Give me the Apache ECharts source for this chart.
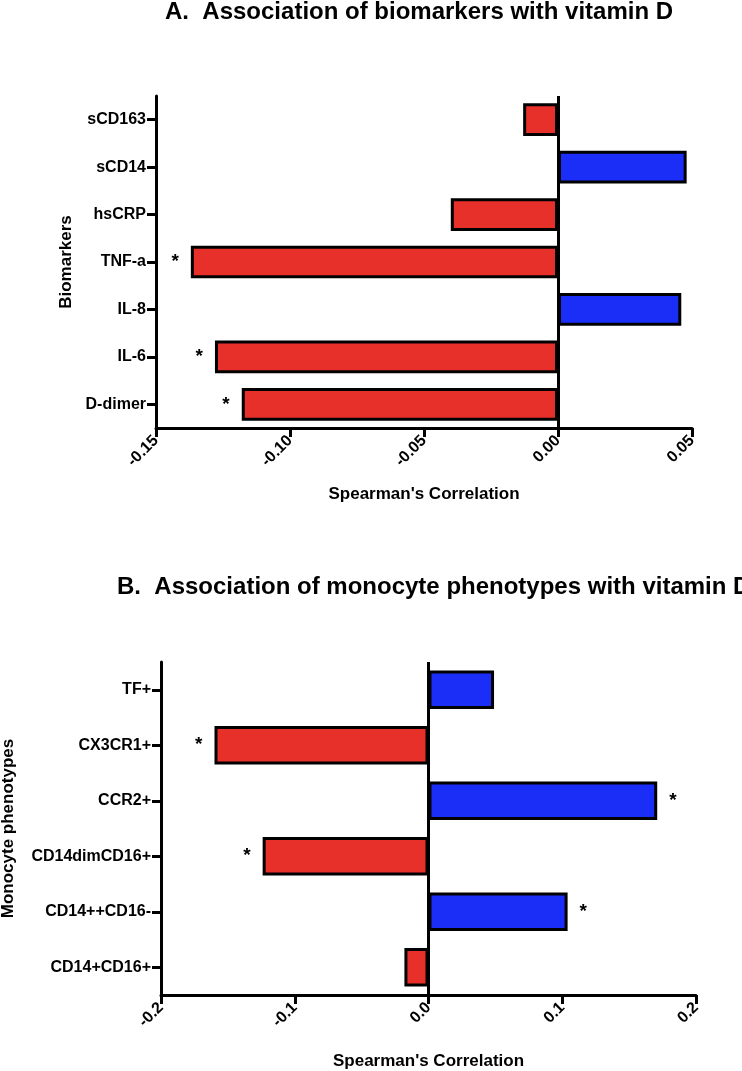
<!DOCTYPE html>
<html>
<head>
<meta charset="utf-8">
<script src="https://cdn.jsdelivr.net/npm/echarts@6/dist/echarts.min.js"></script>
<style>
html,body{margin:0;padding:0;background:#fff;}
#c{width:742px;height:1071px;}
</style>
</head>
<body>
<div id="c"></div>
<script>
// ---- Data ----
const titleA = 'A.  Association of biomarkers with vitamin D';
const catsA = ['sCD163', 'sCD14', 'hsCRP', 'TNF-a', 'IL-8', 'IL-6', 'D-dimer'];
const valsA = [-0.013, 0.048, -0.040, -0.137, 0.046, -0.128, -0.118];
const sigA = [false, false, false, true, false, true, true];
const ticksA = { min: -0.15, max: 0.05, interval: 0.05, digits: 2 };

const titleB = 'B.  Association of monocyte phenotypes with vitamin D';
const catsB = ['TF+', 'CX3CR1+', 'CCR2+', 'CD14dimCD16+', 'CD14++CD16-', 'CD14+CD16+'];
const valsB = [0.049, -0.160, 0.171, -0.124, 0.104, -0.018];
const sigB = [false, true, true, true, true, false];
const ticksB = { min: -0.2, max: 0.2, interval: 0.1, digits: 1 };

const xName = "Spearman's Correlation";
const yNameA = 'Biomarkers';
const yNameB = 'Monocyte phenotypes';

// ---- Styles ----
const RED = '#e8302a';
const BLUE = '#1a2ef8';
const FONT = '"Liberation Sans", Arial, Helvetica, sans-serif';
const AXW = 3;

function barData(vals, sig) {
  return vals.map((v, i) => ({
    value: v,
    itemStyle: { color: v < 0 ? RED : BLUE, borderColor: '#000', borderWidth: 3 },
    label: {
      show: sig[i], formatter: '*', position: v < 0 ? 'left' : 'right',
      distance: 12, color: '#000', fontSize: 19, fontWeight: 'bold', fontFamily: FONT
    }
  }));
}

function xAxisDef(idx, t) {
  return {
    type: 'value', gridIndex: idx, min: t.min, max: t.max, interval: t.interval,
    splitLine: { show: false },
    axisLine: { show: true, onZero: false, lineStyle: { color: '#000', width: AXW } },
    axisTick: { show: true, length: 9, lineStyle: { color: '#000', width: AXW } },
    axisLabel: {
      rotate: 45, margin: 10, color: '#000', fontSize: 16, fontWeight: 'bold', fontFamily: FONT,
      formatter: v => v.toFixed(t.digits)
    },
    name: xName, nameLocation: 'middle', nameGap: 58,
    nameTextStyle: { color: '#000', fontSize: 17, fontWeight: 'bold', fontFamily: FONT }
  };
}

function yAxisDef(idx, cats, name, gap) {
  return {
    type: 'category', gridIndex: idx, data: cats, inverse: true,
    axisLine: { show: true, onZero: false, lineStyle: { color: '#000', width: AXW } },
    axisTick: { show: true, alignWithLabel: true, length: 9, lineStyle: { color: '#000', width: AXW } },
    axisLabel: { margin: 10, color: '#000', fontSize: 16, fontWeight: 'bold', fontFamily: FONT },
    splitLine: { show: false },
    name: name, nameLocation: 'middle', nameRotate: 90, nameGap: gap,
    nameTextStyle: { color: '#000', fontSize: 17, fontWeight: 'bold', fontFamily: FONT }
  };
}

function seriesDef(idx, vals, sig) {
  return {
    type: 'bar', xAxisIndex: idx, yAxisIndex: idx,
    data: barData(vals, sig), barCategoryGap: '31%',
    markLine: {
      silent: true, symbol: 'none', label: { show: false },
      lineStyle: { color: '#000', width: AXW, type: 'solid' },
      data: [{ xAxis: 0 }]
    }
  };
}

const chart = echarts.init(document.getElementById('c'), null, { renderer: 'canvas' });
chart.setOption({
  animation: false,
  backgroundColor: '#fff',
  title: [
    { text: titleA, left: 165, top: 0, padding: 0, textStyle: { color: '#000', fontSize: 24, fontWeight: 'bold', fontFamily: FONT } },
    { text: titleB, left: 117, top: 575, padding: 0, textStyle: { color: '#000', fontSize: 24, fontWeight: 'bold', fontFamily: FONT } }
  ],
  grid: [
    { left: 156, width: 536, top: 96, height: 332, containLabel: false, outerBoundsMode: 'none' },
    { left: 161, width: 535, top: 662, height: 333, containLabel: false, outerBoundsMode: 'none' }
  ],
  xAxis: [xAxisDef(0, ticksA), xAxisDef(1, ticksB)],
  yAxis: [yAxisDef(0, catsA, yNameA, 80), yAxisDef(1, catsB, yNameB, 144)],
  series: [seriesDef(0, valsA, sigA), seriesDef(1, valsB, sigB)]
});
</script>
</body>
</html>
